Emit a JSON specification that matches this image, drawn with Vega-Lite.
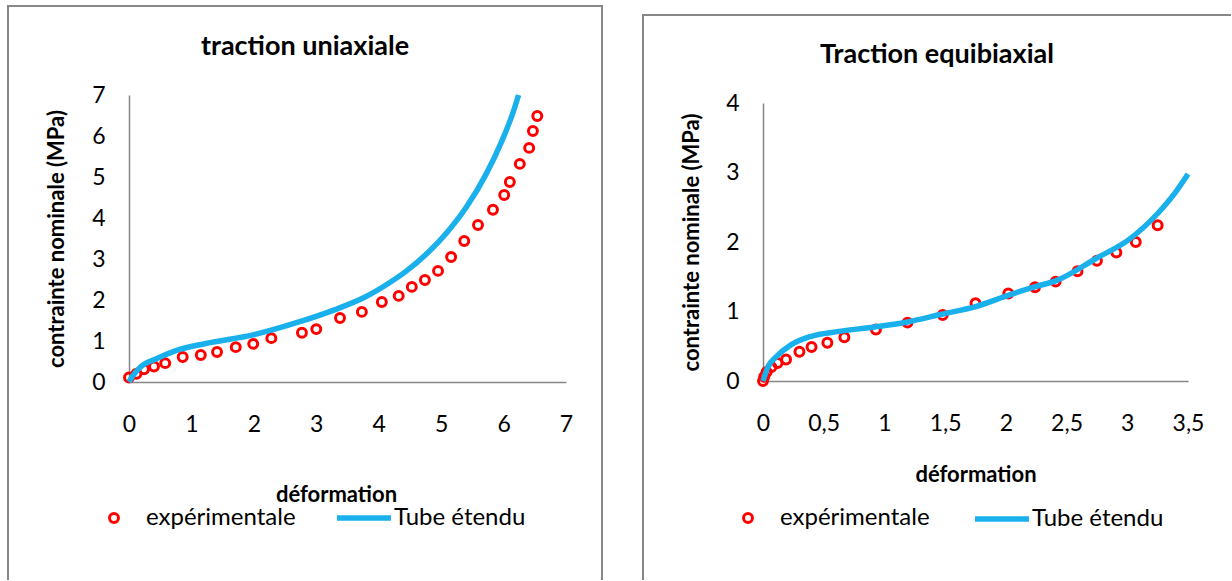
{
  "$schema": "https://vega.github.io/schema/vega-lite/v6.json",
  "background": "white",
  "padding": {"left": 7, "top": 5, "right": 0, "bottom": 0},
  "spacing": 39,
  "config": {
    "font": "Lato",
    "view": {"stroke": "#878787", "strokeWidth": 2},
    "axis": {
      "domainColor": "#868686",
      "domainWidth": 1.5,
      "ticks": false,
      "grid": false,
      "labelFont": "Lato",
      "labelFontSize": 23,
      "labelColor": "#000000",
      "labelOverlap": false,
      "labelFlush": false,
      "titleFont": "Lato",
      "titleFontSize": 22,
      "titleFontWeight": "bold",
      "titleColor": "#000000"
    },
    "legend": {
      "labelFont": "Lato",
      "labelFontSize": 24,
      "labelColor": "#000000",
      "padding": 0,
      "symbolOpacity": 1,
      "symbolFillColor": "transparent"
    },
    "title": {
      "font": "Lato",
      "fontSize": 27,
      "fontWeight": "bold",
      "color": "#000000",
      "anchor": "middle",
      "frame": "group"
    }
  },
  "datasets": {
    "uni_exp": [
      {"deformation": 0.0, "contrainte": 0.11},
      {"deformation": 0.12, "contrainte": 0.2},
      {"deformation": 0.24, "contrainte": 0.31},
      {"deformation": 0.4, "contrainte": 0.38},
      {"deformation": 0.58, "contrainte": 0.46},
      {"deformation": 0.86, "contrainte": 0.61},
      {"deformation": 1.15, "contrainte": 0.66},
      {"deformation": 1.41, "contrainte": 0.73},
      {"deformation": 1.71, "contrainte": 0.85},
      {"deformation": 1.99, "contrainte": 0.93},
      {"deformation": 2.28, "contrainte": 1.07},
      {"deformation": 2.77, "contrainte": 1.2},
      {"deformation": 3.0, "contrainte": 1.29},
      {"deformation": 3.38, "contrainte": 1.56},
      {"deformation": 3.73, "contrainte": 1.71},
      {"deformation": 4.05, "contrainte": 1.95},
      {"deformation": 4.32, "contrainte": 2.1},
      {"deformation": 4.53, "contrainte": 2.32},
      {"deformation": 4.74, "contrainte": 2.49},
      {"deformation": 4.95, "contrainte": 2.71},
      {"deformation": 5.16, "contrainte": 3.05},
      {"deformation": 5.37, "contrainte": 3.44},
      {"deformation": 5.59, "contrainte": 3.83},
      {"deformation": 5.83, "contrainte": 4.2},
      {"deformation": 6.01, "contrainte": 4.56},
      {"deformation": 6.1, "contrainte": 4.88},
      {"deformation": 6.26, "contrainte": 5.32},
      {"deformation": 6.41, "contrainte": 5.71},
      {"deformation": 6.47, "contrainte": 6.12},
      {"deformation": 6.54, "contrainte": 6.49}
    ],
    "uni_tube": [
      {"deformation": 0.0, "contrainte": 0.0},
      {"deformation": 0.06, "contrainte": 0.15},
      {"deformation": 0.18, "contrainte": 0.36},
      {"deformation": 0.43, "contrainte": 0.56},
      {"deformation": 0.74, "contrainte": 0.76},
      {"deformation": 1.23, "contrainte": 0.94},
      {"deformation": 1.99, "contrainte": 1.15},
      {"deformation": 2.67, "contrainte": 1.44},
      {"deformation": 3.29, "contrainte": 1.76},
      {"deformation": 3.79, "contrainte": 2.08},
      {"deformation": 4.16, "contrainte": 2.41},
      {"deformation": 4.42, "contrainte": 2.68},
      {"deformation": 4.79, "contrainte": 3.16},
      {"deformation": 5.1, "contrainte": 3.66},
      {"deformation": 5.41, "contrainte": 4.28},
      {"deformation": 5.72, "contrainte": 5.07},
      {"deformation": 5.97, "contrainte": 5.87},
      {"deformation": 6.16, "contrainte": 6.61},
      {"deformation": 6.24, "contrainte": 7.0}
    ],
    "bi_exp": [
      {"deformation": 0.0, "contrainte": 0.0},
      {"deformation": 0.01, "contrainte": 0.06},
      {"deformation": 0.03, "contrainte": 0.13},
      {"deformation": 0.07, "contrainte": 0.2},
      {"deformation": 0.12, "contrainte": 0.26},
      {"deformation": 0.19, "contrainte": 0.31},
      {"deformation": 0.3, "contrainte": 0.42},
      {"deformation": 0.4, "contrainte": 0.49},
      {"deformation": 0.53, "contrainte": 0.55},
      {"deformation": 0.67, "contrainte": 0.63},
      {"deformation": 0.93, "contrainte": 0.74},
      {"deformation": 1.19, "contrainte": 0.84},
      {"deformation": 1.48, "contrainte": 0.95},
      {"deformation": 1.75, "contrainte": 1.12},
      {"deformation": 2.02, "contrainte": 1.26},
      {"deformation": 2.24, "contrainte": 1.35},
      {"deformation": 2.41, "contrainte": 1.43},
      {"deformation": 2.59, "contrainte": 1.58},
      {"deformation": 2.75, "contrainte": 1.73},
      {"deformation": 2.91, "contrainte": 1.85},
      {"deformation": 3.07, "contrainte": 2.0},
      {"deformation": 3.25, "contrainte": 2.24}
    ],
    "bi_tube": [
      {"deformation": 0.0, "contrainte": 0.0},
      {"deformation": 0.04, "contrainte": 0.2},
      {"deformation": 0.11, "contrainte": 0.35},
      {"deformation": 0.23, "contrainte": 0.52},
      {"deformation": 0.39, "contrainte": 0.64},
      {"deformation": 0.61, "contrainte": 0.71},
      {"deformation": 0.93, "contrainte": 0.78},
      {"deformation": 1.19, "contrainte": 0.85},
      {"deformation": 1.47, "contrainte": 0.96},
      {"deformation": 1.75, "contrainte": 1.07},
      {"deformation": 2.03, "contrainte": 1.24},
      {"deformation": 2.25, "contrainte": 1.36},
      {"deformation": 2.41, "contrainte": 1.44},
      {"deformation": 2.75, "contrainte": 1.77},
      {"deformation": 3.01, "contrainte": 2.03},
      {"deformation": 3.25, "contrainte": 2.41},
      {"deformation": 3.39, "contrainte": 2.7},
      {"deformation": 3.5, "contrainte": 2.98}
    ]
  },
  "hconcat": [
    {
      "width": 594,
      "height": 574,
      "view": {"stroke": "#878787", "strokeWidth": 2, "strokeDash": [1168, 594, 574]},
      "title": {"text": "traction uniaxiale", "offset": -55},
      "layer": [
        {
          "data": {"name": "uni_exp"},
          "mark": {"type": "point", "shape": "circle", "filled": false, "size": 80, "strokeWidth": 3, "opacity": 1},
          "encoding": {
            "x": {
              "field": "deformation", "type": "quantitative",
              "scale": {"domain": [0, 7], "range": [121, 558], "nice": false},
              "axis": {"values": [0, 1, 2, 3, 4, 5, 6, 7], "format": "d", "offset": -198, "title": "déformation",
                       "titleX": 328, "titleY": 112, "titleBaseline": "middle", "titleAlign": "center",
                       "labelPadding": 42, "labelBaseline": "middle"}
            },
            "y": {
              "field": "contrainte", "type": "quantitative",
              "scale": {"domain": [0, 7], "range": [376, 89], "nice": false},
              "axis": {"values": [0, 1, 2, 3, 4, 5, 6, 7], "format": "d", "offset": -121, "title": "contrainte nominale (MPa)",
                       "titleX": -73, "titleBaseline": "middle", "labelPadding": 24}
            },
            "color": {
              "datum": "expérimentale", "type": "nominal",
              "scale": {"domain": ["expérimentale"], "range": ["#FF0000"]},
              "legend": {"orient": "none", "legendX": 94, "legendY": 500, "title": null,
                         "symbolType": "circle", "symbolSize": 80, "symbolStrokeWidth": 3, "labelOffset": 20}
            }
          }
        },
        {
          "data": {"name": "uni_tube"},
          "mark": {"type": "line", "strokeWidth": 5.5, "interpolate": "monotone"},
          "encoding": {
            "x": {"field": "deformation", "type": "quantitative"},
            "y": {"field": "contrainte", "type": "quantitative"},
            "stroke": {
              "datum": "Tube étendu", "type": "nominal",
              "scale": {"domain": ["Tube étendu"], "range": ["#19B0EC"]},
              "legend": {"orient": "none", "legendX": 326, "legendY": 482, "title": null,
                         "symbolType": "stroke", "symbolSize": 2916, "symbolStrokeWidth": 5.5, "labelOffset": 0}
            }
          }
        }
      ]
    },
    {
      "spacing": 7,
      "resolve": {
        "scale": {"color": "independent", "stroke": "independent"},
        "legend": {"color": "independent", "stroke": "independent"}
      },
      "vconcat": [
        {
          "width": 588,
          "height": 1,
          "view": {"stroke": null, "fill": "white"},
          "data": {"values": []},
          "mark": {"type": "point", "opacity": 0},
          "encoding": {}
        },
        {
          "width": 588,
          "height": 565,
          "view": {"stroke": "#878787", "strokeWidth": 2, "strokeDash": [588, 1153, 565]},
          "title": {"text": "Traction equibiaxial", "offset": -54},
          "layer": [
            {
              "data": {"name": "bi_exp"},
              "mark": {"type": "point", "shape": "circle", "filled": false, "size": 80, "strokeWidth": 3, "opacity": 1},
              "encoding": {
                "x": {
                  "field": "deformation", "type": "quantitative",
                  "scale": {"domain": [0, 3.5], "range": [120, 545], "nice": false},
                  "axis": {"values": [0, 0.5, 1, 1.5, 2, 2.5, 3, 3.5], "offset": -199, "title": "déformation",
                           "labelExpr": "replace(format(datum.value, '~g'), '.', ',')",
                           "titleX": 332.5, "titleY": 93, "titleBaseline": "middle", "titleAlign": "center",
                           "labelPadding": 42, "labelBaseline": "middle"}
                },
                "y": {
                  "field": "contrainte", "type": "quantitative",
                  "scale": {"domain": [0, 4], "range": [366, 88], "nice": false},
                  "axis": {"values": [0, 1, 2, 3, 4], "format": "d", "offset": -120, "title": "contrainte nominale (MPa)",
                           "titleX": -72, "titleBaseline": "middle", "labelPadding": 24}
                },
                "color": {
                  "datum": "expérimentale", "type": "nominal",
                  "scale": {"domain": ["expérimentale"], "range": ["#FF0000"]},
                  "legend": {"orient": "none", "legendX": 93, "legendY": 491, "title": null,
                             "symbolType": "circle", "symbolSize": 80, "symbolStrokeWidth": 3, "labelOffset": 20}
                }
              }
            },
            {
              "data": {"name": "bi_tube"},
              "mark": {"type": "line", "strokeWidth": 5.5, "interpolate": "monotone"},
              "encoding": {
                "x": {"field": "deformation", "type": "quantitative"},
                "y": {"field": "contrainte", "type": "quantitative"},
                "stroke": {
                  "datum": "Tube étendu", "type": "nominal",
                  "scale": {"domain": ["Tube étendu"], "range": ["#19B0EC"]},
                  "legend": {"orient": "none", "legendX": 329, "legendY": 474, "title": null,
                             "symbolType": "stroke", "symbolSize": 2916, "symbolStrokeWidth": 5.5, "labelOffset": 0}
                }
              }
            }
          ]
        }
      ]
    }
  ],
  "resolve": {
    "scale": {"color": "independent", "stroke": "independent"},
    "legend": {"color": "independent", "stroke": "independent"}
  }
}
